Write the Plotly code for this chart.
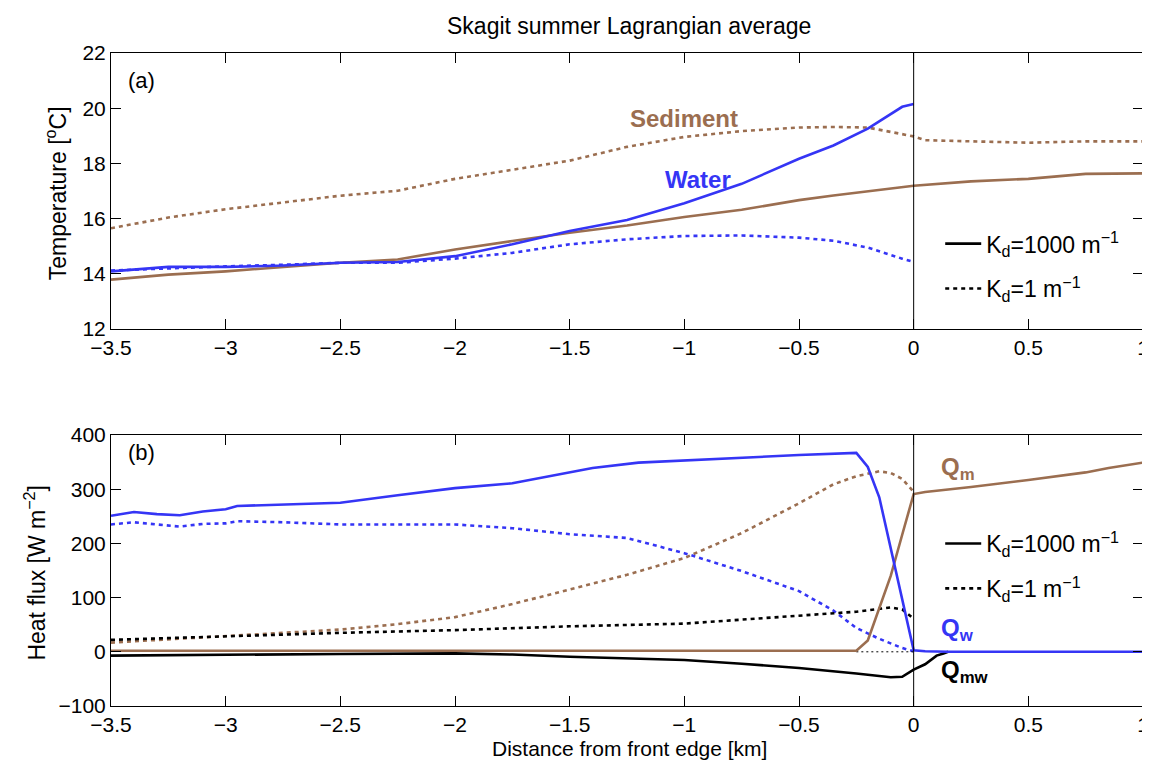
import plotly.graph_objects as go
from plotly.subplots import make_subplots

BLUE = "#3535f5"
BROWN = "#9b6e50"
FONT = "Liberation Sans, Arial, sans-serif"

# ---------------- Panel (a): temperature ----------------
x_water = [-3.5, -3.25, -3, -2.75, -2.5, -2.25, -2, -1.75, -1.5, -1.25, -1, -0.75, -0.5, -0.35, -0.2, -0.05, 0]
water_kd1000 = [14.09, 14.25, 14.25, 14.3, 14.4, 14.43, 14.64, 15.07, 15.55, 15.95, 16.56, 17.26, 18.17, 18.65, 19.26, 20.05, 20.15]
water_kd1 = [14.12, 14.2, 14.27, 14.33, 14.4, 14.4, 14.55, 14.76, 15.07, 15.25, 15.37, 15.39, 15.31, 15.2, 14.95, 14.55, 14.43]

x_sed = [-3.5, -3.25, -3, -2.75, -2.5, -2.25, -2, -1.75, -1.5, -1.25, -1, -0.75, -0.5, -0.35, -0.2, -0.05, 0, 0.25, 0.5, 0.75, 1]
sed_kd1000 = [13.79, 13.97, 14.09, 14.24, 14.4, 14.52, 14.88, 15.19, 15.49, 15.75, 16.06, 16.32, 16.67, 16.84, 17.0, 17.16, 17.19, 17.35, 17.44, 17.62, 17.64]

x_sed_kd1 = [-3.5, -3.25, -3, -2.75, -2.5, -2.25, -2, -1.75, -1.5, -1.25, -1, -0.75, -0.5, -0.35, -0.2, -0.1, 0, 0.05, 0.25, 0.5, 0.75, 1]
sed_kd1 = [15.65, 16.04, 16.34, 16.58, 16.83, 17.01, 17.44, 17.77, 18.1, 18.6, 18.96, 19.17, 19.3, 19.32, 19.3, 19.14, 18.98, 18.84, 18.8, 18.75, 18.8, 18.8]

# ---------------- Panel (b): heat flux ----------------
x_qw = [-3.5, -3.4, -3.3, -3.2, -3.1, -3, -2.95, -2.75, -2.5, -2.25, -2, -1.75, -1.5, -1.4, -1.2, -1, -0.75, -0.5, -0.25, -0.2, -0.15, -0.1, -0.05, 0, 0.05, 0.15, 0.5, 1]
qw_kd1000 = [251, 258, 254, 252, 259, 263, 269, 272, 275, 289, 302, 311, 331, 339, 349, 353, 359, 363, 367, 341, 285, 191, 103, 3, 1, 0, 0, 0]

x_qw_kd1 = [-3.5, -3.4, -3.3, -3.2, -3.1, -3, -2.95, -2.75, -2.5, -2.25, -2, -1.75, -1.5, -1.25, -1, -0.75, -0.5, -0.35, -0.25, -0.15, -0.05, 0]
qw_kd1 = [235, 239, 235, 231, 236, 237, 241, 239, 235, 235, 235, 228, 217, 210, 182, 149, 112, 76, 44, 24, 7, 1]

x_qm = [-3.5, -0.25, -0.2, -0.15, -0.1, -0.05, 0, 0.05, 0.25, 0.5, 0.75, 0.85, 1]
qm_kd1000 = [2, 2, 21, 79, 140, 216, 291, 295, 304, 317, 331, 339, 349]

x_qm_kd1 = [-3.5, -3.25, -3, -2.75, -2.5, -2.25, -2, -1.75, -1.5, -1.25, -1, -0.75, -0.5, -0.35, -0.25, -0.15, -0.1, -0.05, 0]
qm_kd1 = [17, 23, 29, 34, 41, 51, 64, 88, 115, 142, 173, 219, 274, 309, 324, 333, 330, 319, 295]

x_qmw = [-3.5, -3, -2.5, -2, -1.75, -1.5, -1.25, -1, -0.75, -0.5, -0.25, -0.1, -0.05, 0, 0.05, 0.1, 0.13, 0.15]
qmw_kd1000 = [-7, -5, -4, -3, -5, -9, -12, -15, -22, -30, -40, -47, -46, -33, -23, -7, -3, 0]

x_qmw_kd1 = [-3.5, -3, -2.5, -2, -1.5, -1, -0.5, -0.25, -0.1, -0.05, 0]
qmw_kd1 = [22, 29, 35, 40, 47, 52, 67, 74, 82, 78, 61]

x_zero_thin = [-0.25, 0]
zero_thin = [0, 0]

x_ticks = [-3.5, -3, -2.5, -2, -1.5, -1, -0.5, 0, 0.5, 1]
x_ticklabels = ["\u22123.5", "\u22123", "\u22122.5", "\u22122", "\u22121.5", "\u22121", "\u22120.5", "0", "0.5", "1"]
t_ticks = [12, 14, 16, 18, 20, 22]
q_ticks = [-100, 0, 100, 200, 300, 400]
q_ticklabels = ["\u2212100", "0", "100", "200", "300", "400"]

legend_labels = ["K<sub>d</sub>=1000 m<sup>\u22121</sup>", "K<sub>d</sub>=1 m<sup>\u22121</sup>"]

DOT = "4px,4px"
LW = 2.6
TICKSIZE = 21

fig = make_subplots(rows=2, cols=1, vertical_spacing=0.16)

def add(x, y, color, dash, row, width=LW):
    fig.add_trace(go.Scatter(x=x, y=y, mode="lines", showlegend=False,
                             line=dict(color=color, width=width, dash=dash),
                             hoverinfo="skip"), row=row, col=1)

add(x_sed_kd1, sed_kd1, BROWN, DOT, 1)
add(x_water, water_kd1, BLUE, DOT, 1)
add(x_sed, sed_kd1000, BROWN, "solid", 1)
add(x_water, water_kd1000, BLUE, "solid", 1)

add(x_qm_kd1, qm_kd1, BROWN, DOT, 2)
add(x_qw_kd1, qw_kd1, BLUE, DOT, 2)
add(x_qmw_kd1, qmw_kd1, "black", DOT, 2)
add(x_zero_thin, zero_thin, "black", "2px,3px", 2, width=1)
add(x_qmw, qmw_kd1000, "black", "solid", 2)
add(x_qm, qm_kd1000, BROWN, "solid", 2)
add(x_qw, qw_kd1000, BLUE, "solid", 2)

# legends
for lg in ("legend", "legend2"):
    for i, (lab, dash) in enumerate(zip(legend_labels, ["solid", DOT])):
        fig.add_trace(go.Scatter(x=[None], y=[None], mode="lines", name=lab,
                                 legend=lg, legendgroup=f"{lg}{i}", showlegend=True,
                                 line=dict(color="black", width=LW, dash=dash)))

axis_common = dict(showline=True, linecolor="black", linewidth=1, mirror="ticks",
                   ticks="inside", ticklen=10, tickcolor="black", showgrid=False,
                   zeroline=False, tickfont=dict(size=TICKSIZE, color="black", family=FONT))

fig.update_xaxes(range=[-3.5, 1], tickvals=x_ticks, ticktext=x_ticklabels, **axis_common)
fig.update_yaxes(**axis_common)
fig.update_yaxes(range=[12, 22], tickvals=t_ticks, domain=[0.5773, 1.0], row=1, col=1)
fig.update_yaxes(range=[-100, 400], tickvals=q_ticks, ticktext=q_ticklabels, domain=[0.0, 0.415], row=2, col=1)

for row in (1, 2):
    fig.add_vline(x=0, line=dict(color="black", width=1), row=row, col=1)

C = dict(xanchor="center", yanchor="middle", showarrow=False)
ann = [
    dict(text="Skagit summer Lagrangian average", xref="paper", yref="paper", x=0.502, y=1.0413,
         font=dict(size=23, color="black"), **C),
    dict(text="Distance from front edge [km]", xref="paper", yref="paper", x=0.502, y=-0.0658,
         font=dict(size=21, color="black"), **C),
    dict(text="Temperature [<sup>o</sup>C]", xref="paper", yref="paper", x=-0.053, y=0.7856,
         textangle=-90, font=dict(size=23, color="black"), **C),
    dict(text="Heat flux [W m<sup>\u22122</sup>]", xref="paper", yref="paper", x=-0.0732, y=0.205,
         textangle=-90, font=dict(size=23, color="black"), **C),
    dict(text="(a)", xref="x", yref="y", x=-3.366, y=21.02, font=dict(size=22, color="black"), **C),
    dict(text="(b)", xref="x2", yref="y2", x=-3.366, y=367, font=dict(size=22, color="black"), **C),
    dict(text="<b>Sediment</b>", xref="x", yref="y", x=-1.0, y=19.62, font=dict(size=24, color=BROWN), **C),
    dict(text="<b>Water</b>", xref="x", yref="y", x=-0.94, y=17.42, font=dict(size=24, color=BLUE), **C),
    dict(text="<b>Q<sub>m</sub></b>", xref="x2", yref="y2", x=0.111, y=338, xanchor="left", yanchor="middle",
         showarrow=False, font=dict(size=24, color=BROWN)),
    dict(text="<b>Q<sub>w</sub></b>", xref="x2", yref="y2", x=0.111, y=42, xanchor="left", yanchor="middle",
         showarrow=False, font=dict(size=24, color=BLUE)),
    dict(text="<b>Q<sub>mw</sub></b>", xref="x2", yref="y2", x=0.111, y=-36, xanchor="left", yanchor="middle",
         showarrow=False, font=dict(size=24, color="black")),
]

legend_style = dict(bgcolor="rgba(0,0,0,0)", borderwidth=0, xanchor="left", yanchor="top",
                    font=dict(size=23, family=FONT, color="black"), tracegroupgap=12, itemwidth=36)

fig.update_layout(
    width=1150, height=760,
    margin=dict(l=103, r=9, t=45, b=62),
    paper_bgcolor="white", plot_bgcolor="white",
    font=dict(family=FONT, color="black"),
    annotations=ann,
    legend=dict(x=0.8035, y=0.741, **legend_style),
    legend2=dict(x=0.8035, y=0.2818, **legend_style),
    showlegend=True,
)

fig.write_html("out.html")
